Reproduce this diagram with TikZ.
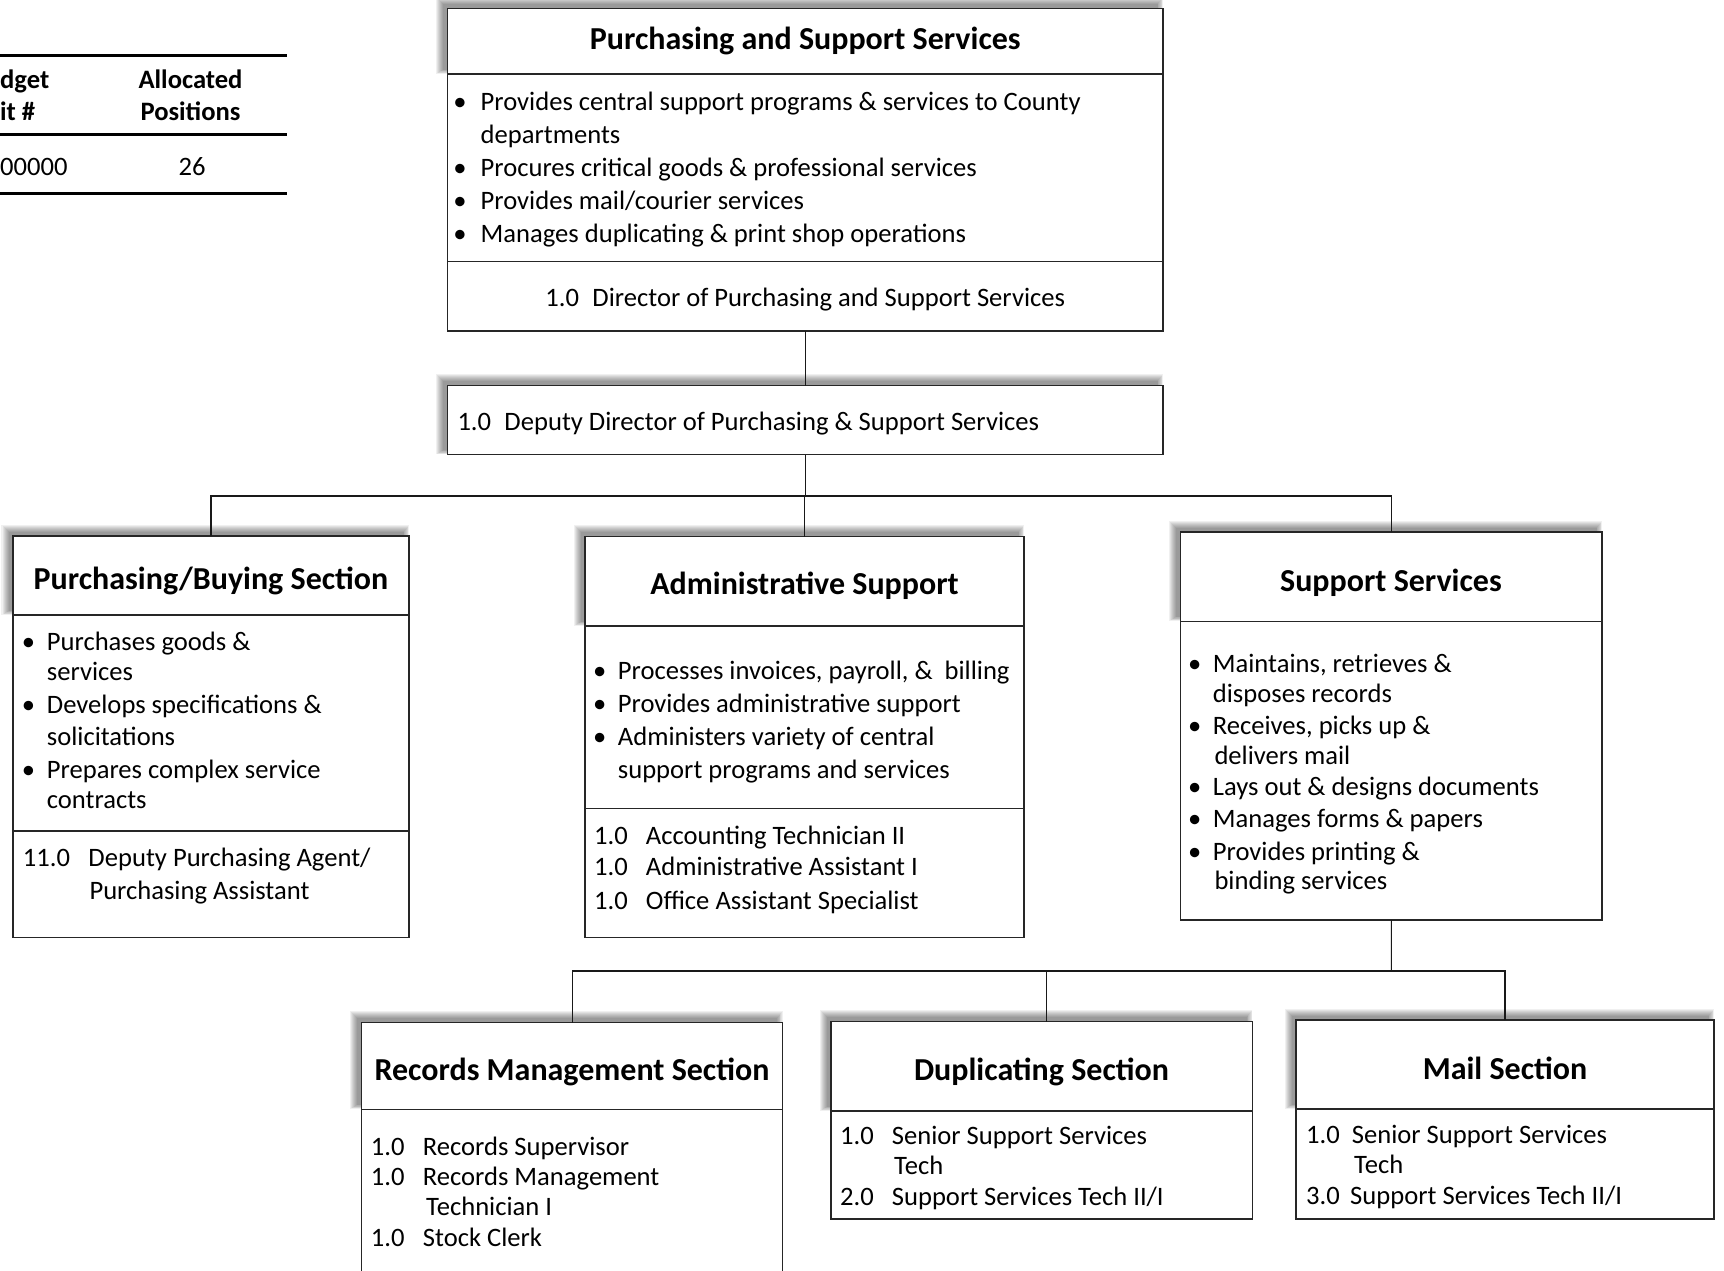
\documentclass[tikz,border=0pt]{standalone}
\usepackage{fontspec}
\setmainfont{Carlito}
\tikzset{
 box/.style={draw=black!85, line width=1.3bp, fill=white, inner sep=0pt, outer sep=0pt},
 conn/.style={draw=black!90, line width=1.1bp},
 dv/.style={draw=black!85, line width=1.3bp},
 txt/.style={anchor=base west, inner sep=0pt, yshift=-9.2bp, font=\fontsize{26.6bp}{32bp}\selectfont},
 ctxt/.style={txt, anchor=base},
 ttl/.style={anchor=base, inner sep=0pt, yshift=-11.2bp, font=\fontsize{32bp}{38bp}\selectfont\bfseries},
 tbl/.style={line width=3bp, draw=black},
 tblb/.style={txt, font=\fontsize{26.6bp}{32bp}\selectfont\bfseries},
}
\newcommand\MkBox[5]{\node[box, minimum width={(#4-#2)*1bp}, minimum height={(#5-#3)*1bp}] (#1) at ({(#2+#4)/2},{(#3+#5)/2}) {};}
\newcommand\HdShadow[4]{\foreach \k in {0,...,7}{\fill[black,opacity=0.06] ({#1-4.5-1.0*\k},{#2-4.5-1.0*\k}) rectangle ({#3-5.5+0.8*\k},{#4-4.5+0.6*\k});}}
\newcommand\TxtLine[4]{\node[txt] (#1) at (#2,#3) {#4};}
\newcommand\BulLine[5]{\node[txt] (#1) at (#2,#4) {\makebox[\dimexpr #3bp - #2bp\relax][l]{\hspace{-6.5bp}\textbullet}#5};}
\newcommand\StaffLine[6]{\node[txt] (#1) at (#2,#4) {\makebox[\dimexpr #3bp - #2bp\relax][l]{#5}#6};}
\begin{document}
\begin{tikzpicture}[x=1bp,y=-1bp]
\useasboundingbox (0,0) rectangle (1724,1270);
\clip (0,0) rectangle (1724,1270);
\fill[white] (0,0) rectangle (1724,1270);

% ---------- table (top left) ----------
\draw[tbl] (0,55.7) -- (287.3,55.7);
\draw[tbl] (0,134.3) -- (287.3,134.3);
\draw[tbl] (0,193.3) -- (287.3,193.3);
\node[tblb] (tbA) at (0,79.3) {dget};
\node[tblb] (tbB) at (0,111) {it \#};
\node[tblb, anchor=base] (tbC) at (190.5,79.3) {Allocated};
\node[tblb, anchor=base] (tbD) at (190.5,111) {Positions};
\TxtLine{tbE}{0}{166}{00000}
\node[ctxt] (tbF) at (192,166) {26};

% ---------- shadows ----------
\HdShadow{447.5}{8.7}{1163}{74}
\HdShadow{447.5}{385.7}{1163}{454.7}
\HdShadow{13}{536}{409}{615}
\HdShadow{585}{536.7}{1024}{626}
\HdShadow{1180.7}{532}{1602}{621.3}
\HdShadow{361.7}{1022.7}{782.7}{1109.3}
\HdShadow{831}{1021.7}{1252.3}{1111}
\HdShadow{1296}{1020}{1714}{1109}

% ---------- boxes ----------
\MkBox{top}{447.5}{8.7}{1163}{331}
\MkBox{dep}{447.5}{385.7}{1163}{454.7}
\MkBox{buy}{13}{536}{409}{937.7}
\MkBox{adm}{585}{536.7}{1024}{937.7}
\MkBox{sup}{1180.7}{532}{1602}{920}
\MkBox{rec}{361.7}{1022.7}{782.7}{1300}
\MkBox{dup}{831}{1021.7}{1252.3}{1219}
\MkBox{mail}{1296}{1020}{1714}{1219}

% dividers
\draw[dv] (447.5,74) -- (1163,74);
\draw[dv] (447.5,261.5) -- (1163,261.5);
\draw[dv] (13,615) -- (409,615);
\draw[dv] (13,831) -- (409,831);
\draw[dv] (585,626) -- (1024,626);
\draw[dv] (585,808.7) -- (1024,808.7);
\draw[dv] (1180.7,621.3) -- (1602,621.3);
\draw[dv] (361.7,1109.3) -- (782.7,1109.3);
\draw[dv] (831,1111) -- (1252.3,1111);
\draw[dv] (1296,1109) -- (1714,1109);

% ---------- top box ----------
\node[ttl] (tTitle) at (805.3,38) {Purchasing and Support Services};
\BulLine{tB1}{459.6}{480.5}{101.5}{Provides central support programs \& services to County}
\TxtLine{tB1b}{480.5}{134.3}{departments}
\BulLine{tB2}{459.6}{480.5}{167}{Procures critical goods \& professional services}
\BulLine{tB3}{459.6}{480.5}{200.5}{Provides mail/courier services}
\BulLine{tB4}{459.6}{480.5}{233.5}{Manages duplicating \& print shop operations}
\node[ctxt] (tDir) at (805.3,297) {1.0\hspace{0.5em}Director of Purchasing and Support Services};

% ---------- deputy ----------
\TxtLine{dTxt}{457.3}{421}{1.0\hspace{0.5em}Deputy Director of Purchasing \& Support Services}

% ---------- purchasing / buying ----------
\node[ttl] (bTitle) at (211,578.3) {Purchasing/Buying Section};
\BulLine{bB1}{28.3}{46.7}{641.7}{Purchases goods \&}
\TxtLine{bB1b}{46.7}{671.7}{services}
\BulLine{bB2}{28.3}{46.7}{704.3}{Develops specifications \&}
\TxtLine{bB2b}{46.7}{736.7}{solicitations}
\BulLine{bB3}{28.3}{46.7}{769.3}{Prepares complex service}
\TxtLine{bB3b}{46.7}{799.3}{contracts}
\StaffLine{bS1}{22.7}{88.3}{857.3}{11.0}{Deputy Purchasing Agent/}
\TxtLine{bS1b}{89.3}{890}{Purchasing Assistant}

% ---------- administrative support ----------
\node[ttl] (aTitle) at (804.5,583.3) {Administrative Support};
\BulLine{aB1}{599.3}{617.7}{670}{Processes invoices, payroll, \&\ \ billing}
\BulLine{aB2}{599.3}{617.7}{703.3}{Provides administrative support}
\BulLine{aB3}{599.3}{617.7}{736.7}{Administers variety of central}
\TxtLine{aB3b}{617.7}{769.3}{support programs and services}
\StaffLine{aS1}{594}{645.7}{835}{1.0}{Accounting Technician II}
\StaffLine{aS2}{594}{645.7}{866.7}{1.0}{Administrative Assistant I}
\StaffLine{aS3}{594}{645.7}{900}{1.0}{Office Assistant Specialist}

% ---------- support services ----------
\node[ttl] (sTitle) at (1391,580) {Support Services};
\BulLine{sB1}{1194.3}{1212.7}{663.3}{Maintains, retrieves \&}
\TxtLine{sB1b}{1212.7}{693.3}{disposes records}
\BulLine{sB2}{1194.3}{1212.7}{725}{Receives, picks up \&}
\TxtLine{sB2b}{1214.3}{755}{delivers mail}
\BulLine{sB3}{1194.3}{1212.7}{786.7}{Lays out \& designs documents}
\BulLine{sB4}{1194.3}{1212.7}{818.3}{Manages forms \& papers}
\BulLine{sB5}{1194.3}{1212.7}{851}{Provides printing \&}
\TxtLine{sB5b}{1214.3}{880}{binding services}

% ---------- records management ----------
\node[ttl] (rTitle) at (572,1069.5) {Records Management Section};
\StaffLine{rS1}{370.7}{422.7}{1146.7}{1.0}{Records Supervisor}
\StaffLine{rS2}{370.7}{422.7}{1176.7}{1.0}{Records Management}
\TxtLine{rS2b}{426}{1206.7}{Technician I}
\StaffLine{rS3}{370.7}{422.7}{1237.7}{1.0}{Stock Clerk}

% ---------- duplicating ----------
\node[ttl] (pTitle) at (1041.5,1069) {Duplicating Section};
\StaffLine{pS1}{840}{891.7}{1135}{1.0}{Senior Support Services}
\TxtLine{pS1b}{894}{1165}{Tech}
\StaffLine{pS2}{840}{891.7}{1196.5}{2.0}{Support Services Tech II/I}

% ---------- mail ----------
\node[ttl] (mTitle) at (1505,1068) {Mail Section};
\StaffLine{mS1}{1306}{1351.7}{1134}{1.0}{Senior Support Services}
\TxtLine{mS1b}{1354}{1164}{Tech}
\StaffLine{mS2}{1306}{1350}{1195.5}{3.0}{Support Services Tech II/I}

% ---------- connectors ----------
\coordinate (j1) at (805.25,496);
\coordinate (j2) at (1391.35,971);
\draw[conn] (top.south) -- (dep.north);
\draw[conn] (dep.south) -- (j1);
\draw[conn] (buy.north) |- (j1);
\draw[conn] (adm.north) |- (j1);
\draw[conn] (sup.north) |- (j1);
\draw[conn] (sup.south) -- (j2);
\draw[conn] (rec.north) |- (j2);
\draw[conn] ([xshift=4.4bp]dup.north) |- (j2);
\draw[conn] (mail.north) |- (j2);
\end{tikzpicture}
\end{document}
